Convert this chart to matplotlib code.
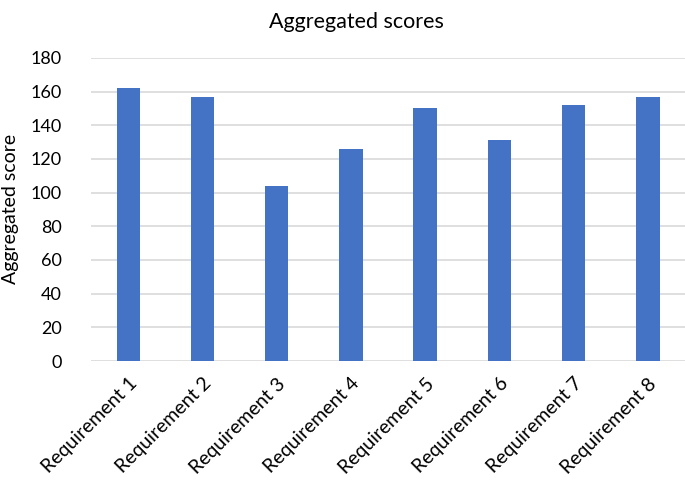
import matplotlib.pyplot as plt

# Veriler
categories = ["Requirement 1", "Requirement 2", "Requirement 3", "Requirement 4",
              "Requirement 5", "Requirement 6", "Requirement 7", "Requirement 8"]
scores = [162, 157, 104, 126, 150, 131, 152, 157]
y_ticks = [0, 20, 40, 60, 80, 100, 120, 140, 160, 180]

plt.rcParams['font.family'] = ['Lato', 'DejaVu Sans']

fig = plt.figure(figsize=(6.85, 4.82), dpi=100)
ax = fig.add_axes([0.133, 0.251, 0.867, 0.629])

x = list(range(len(categories)))
ax.bar(x, scores, width=0.315, color='#4472C4', zorder=3)

ax.set_xlim(-0.5, len(categories) - 0.5)
ax.set_ylim(0, 180)
ax.set_yticks(y_ticks)
ax.set_yticklabels([str(v) for v in y_ticks], fontsize=13)
ax.set_xticks(x)
ax.set_xticklabels(categories, rotation=45, ha='right', rotation_mode='anchor',
                   fontsize=14)
ax.tick_params(axis='x', length=0, pad=10)
ax.tick_params(axis='y', length=0, pad=21)

ax.grid(axis='y', color='#D9D9D9', linewidth=1.2, zorder=0)
for s in ax.spines.values():
    s.set_visible(False)

ax.set_ylabel("Aggregated score", fontsize=14)
ax.yaxis.set_label_coords(-0.122, 0.5)
fig.text(0.52, 0.975, "Aggregated scores", fontsize=15.5, ha='center', va='top')

fig.savefig('out.png', dpi=100)
